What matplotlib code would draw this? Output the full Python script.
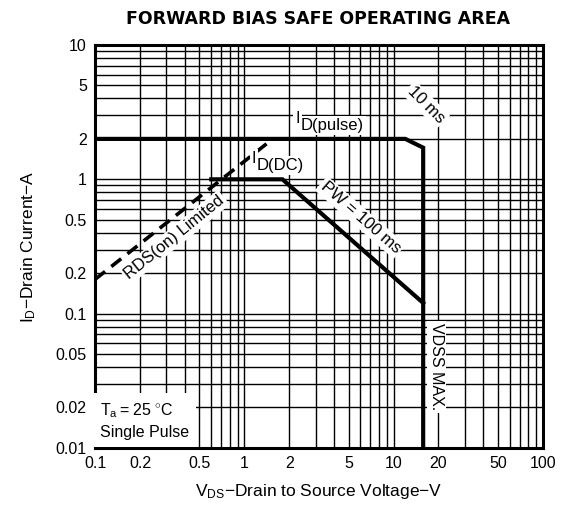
import numpy as np
import matplotlib.pyplot as plt
from matplotlib.ticker import FixedLocator, LogLocator, NullFormatter

plt.rcParams['font.family'] = ['Liberation Sans', 'DejaVu Sans']
plt.rcParams['mathtext.fontset'] = 'custom'
plt.rcParams['mathtext.rm'] = 'Liberation Sans'

# pulse limit (10 ms) and VDSS max
pulse_v = [0.1, 12, 15.8, 15.8]
pulse_i = [2, 2, 1.72, 0.01]
# DC limit (PW = 100 ms)
dc_v = [0.6, 1.8, 15.8]
dc_i = [1, 1, 0.12]
# RDS(on) limited
rds_v = [0.1, 1.55]
rds_i = [0.18, 2]

xticks = [0.1, 0.2, 0.5, 1, 2, 5, 10, 20, 50, 100]
xlabels = ['0.1', '0.2', '0.5', '1', '2', '5', '10', '20', '50', '100']
yticks = [0.01, 0.02, 0.05, 0.1, 0.2, 0.5, 1, 2, 5, 10]
ylabels = ['0.01', '0.02', '0.05', '0.1', '0.2', '0.5', '1', '2', '5', '10']

fig = plt.figure(figsize=(5.63, 5.30), dpi=100)
ax = fig.add_axes([0.169, 0.155, 0.795, 0.760])
ax.set_xscale('log')
ax.set_yscale('log')
ax.set_xlim(0.1, 100)
ax.set_ylim(0.01, 10)

ax.xaxis.set_major_locator(FixedLocator(xticks))
ax.set_xticklabels(xlabels)
ax.yaxis.set_major_locator(FixedLocator(yticks))
ax.set_yticklabels(ylabels)
for a in (ax.xaxis, ax.yaxis):
    a.set_minor_locator(LogLocator(base=10, subs=np.arange(1, 10)))
    a.set_minor_formatter(NullFormatter())
ax.tick_params(which='both', length=0, labelsize=11.5, pad=6)
ax.grid(True, which='both', color='black', linewidth=1.0)
for s in ax.spines.values():
    s.set_linewidth(2.2)

ax.plot(pulse_v, pulse_i, color='black', linewidth=3, solid_joinstyle='miter', zorder=4)
ax.plot(dc_v, dc_i, color='black', linewidth=3, solid_joinstyle='miter', zorder=4)
ax.plot(rds_v, rds_i, color='black', linewidth=2.6, linestyle=(0, (3.5, 2.2)), zorder=4)

bb = dict(facecolor='white', edgecolor='none', pad=1.5)


def sub_label(x, y, main, sub, size=12):
    # main letter raised, subscript text same size and lowered
    t = ax.text(x, y, main, fontsize=size * 0.95, ha='right', va='bottom', bbox=bb, zorder=6)
    ax.annotate(sub, xy=(1, 0.55), xycoords=t, xytext=(0.5, 0), textcoords='offset points',
                fontsize=size, ha='left', va='top', bbox=bb, zorder=5)


sub_label(2.35, 2.5, 'I', 'D(pulse)')
sub_label(1.2, 1.25, 'I', 'D(DC)')
ax.text(16.5, 3.6, '10 ms', fontsize=12, ha='center', va='center', rotation=-45, bbox=bb, zorder=5)
ax.text(6.0, 0.52, 'PW = 100 ms', fontsize=12, ha='center', va='center', rotation=-41, bbox=bb, zorder=5)
ax.text(0.34, 0.37, 'RDS(on) Limited', fontsize=12, ha='center', va='center', rotation=39, bbox=bb, zorder=5)
ax.text(19.5, 0.04, 'VDSS MAX.', fontsize=11.5, ha='center', va='center', rotation=-90, bbox=bb, zorder=5)
ax.text(0.108, 0.0115, r'$\mathrm{T_a}$$=$25 $^{\circ}$C' + '\nSingle Pulse', fontsize=11.5,
        ha='left', va='bottom', linespacing=1.4,
        bbox=dict(facecolor='white', edgecolor='none', pad=5), zorder=5)

fig.text(0.565, 0.965, 'FORWARD BIAS SAFE OPERATING AREA', fontsize=12.5,
         family='DejaVu Sans', fontweight='bold', ha='center', va='center')
ax.set_xlabel(r'$\mathrm{V_{DS}}$' + '$-$Drain to Source Voltage$-$V', fontsize=12.5, labelpad=8)
ax.set_ylabel(r'$\mathrm{I_D}$' + '$-$Drain Current$-$A', fontsize=12.5, labelpad=13)

fig.savefig('out.png', dpi=100)
